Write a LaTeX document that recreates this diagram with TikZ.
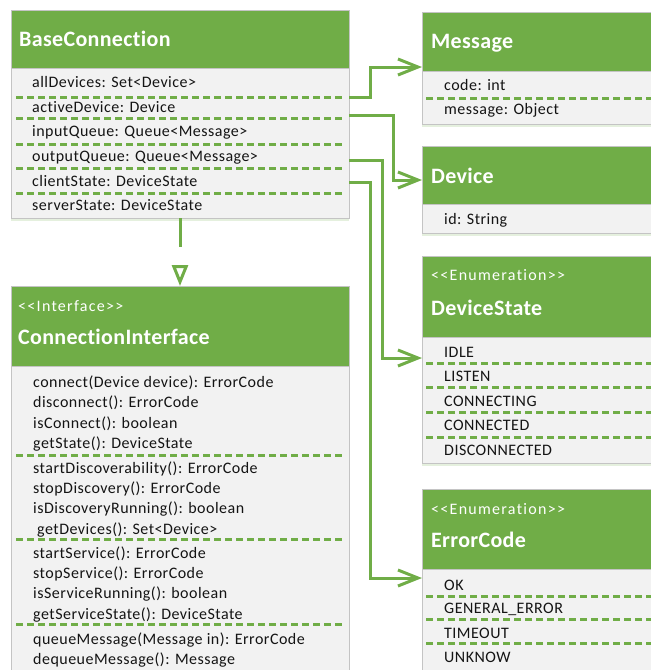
\documentclass[tikz,border=0pt]{standalone}
\usepackage{fontspec}
\setmainfont{Carlito}[Ligatures=NoCommon]
\newfontfamily\titlefont{Carlito}[LetterSpace=1.5, Ligatures=NoCommon]
\newfontfamily\stereofont{Carlito}[LetterSpace=8, Ligatures=NoCommon]
\newfontfamily\rowfont{Carlito}[LetterSpace=3, Ligatures=NoCommon]
\usetikzlibrary{arrows.meta,shadows}
\definecolor{umlgreen}{HTML}{70AD47}
\definecolor{umlbody}{HTML}{F2F2F2}
\definecolor{umlframe}{HTML}{C4C4C4}
\definecolor{umltext}{HTML}{141414}
\tikzset{
  header/.style={rectangle, anchor=north west, fill=umlgreen, draw=umlframe, line width=1pt, inner sep=0pt, outer sep=0pt},
  body/.style={rectangle, anchor=north west, fill=umlbody, draw=umlframe, line width=1pt, inner sep=0pt, outer sep=0pt,
    drop shadow={shadow xshift=0pt, shadow yshift=-3pt, fill=umlgreen, opacity=0.18}},
  title/.style={anchor=base west, inner sep=0pt, text=white, font=\titlefont\fontsize{22}{24}\selectfont\bfseries},
  stereo/.style={anchor=base west, inner sep=0pt, text=white, font=\stereofont\fontsize{16}{18}\selectfont},
  row/.style={anchor=base west, inner sep=0pt, text=umltext, font=\rowfont\fontsize{16}{18}\selectfont},
  sep/.style={umlgreen, line width=3pt, dash pattern=on 7pt off 4pt},
  assoc/.style={umlgreen, line width=3pt, -{Straight Barb[length=20pt, width=16pt]}},
  realize/.style={umlgreen, line width=3pt, dash pattern=on 29pt off 20pt,
    -{Triangle[open, length=21pt, width=16pt]}},
}
\begin{document}
\begin{tikzpicture}[x=1pt, y=-1pt]
\useasboundingbox (0,0) rectangle (651,670);
\clip (0,0) rectangle (651,670);

% ---------- BaseConnection ----------
\node[header, minimum width=338pt, minimum height=58pt] (bcH) at (11,10) {};
\node[body, minimum width=338pt, minimum height=150pt] (bcB) at (11,68) {};
\node[title] (bcT) at (19,46) {BaseConnection};
\foreach \y in {97,118,144,168,193} \draw[sep] (16,\y) -- (345,\y);
\node[row] (bc1) at (32,87.5) {allDevices: Set<Device>};
\node[row] (bc2) at (32,112) {activeDevice: Device};
\node[row] (bc3) at (32,136.5) {inputQueue: Queue<Message>};
\node[row] (bc4) at (32,161) {outputQueue: Queue<Message>};
\node[row] (bc5) at (32,186) {clientState: DeviceState};
\node[row] (bc6) at (32,210.5) {serverState: DeviceState};

% ---------- ConnectionInterface ----------
\node[header, minimum width=338pt, minimum height=80pt] (ciH) at (11,286) {};
\node[body, minimum width=338pt, minimum height=330pt] (ciB) at (11,366) {};
\node[stereo] (ciS) at (18,311) {<<Interface>>};
\node[title] (ciT) at (18,344) {ConnectionInterface};
\foreach \y in {455,539,624} \draw[sep] (16,\y) -- (345,\y);
\node[row] (ci1)  at (33,387.5) {connect(Device device): ErrorCode};
\node[row] (ci2)  at (33,407.8) {disconnect(): ErrorCode};
\node[row] (ci3)  at (33,428.1) {isConnect(): boolean};
\node[row] (ci4)  at (33,448.2) {getState(): DeviceState};
\node[row] (ci5)  at (33,473) {startDiscoverability(): ErrorCode};
\node[row] (ci6)  at (33,493.3) {stopDiscovery(): ErrorCode};
\node[row] (ci7)  at (33,513.6) {isDiscoveryRunning(): boolean};
\node[row] (ci8)  at (37,534) {getDevices(): Set<Device>};
\node[row] (ci9)  at (33,558.3) {startService(): ErrorCode};
\node[row] (ci10) at (33,578.6) {stopService(): ErrorCode};
\node[row] (ci11) at (33,598.9) {isServiceRunning(): boolean};
\node[row] (ci12) at (33,619.2) {getServiceState(): DeviceState};
\node[row] (ci13) at (33,644) {queueMessage(Message in): ErrorCode};
\node[row] (ci14) at (33,664.3) {dequeueMessage(): Message};

% ---------- Message ----------
\node[header, minimum width=260pt, minimum height=59pt] (msH) at (422,12) {};
\node[body, minimum width=260pt, minimum height=53pt] (msB) at (422,71) {};
\node[title] (msT) at (431,48.5) {Message};
\draw[sep] (426,98) -- (660,98);
\node[row] (ms1) at (444,90) {code: int};
\node[row] (ms2) at (444,114.5) {message: Object};

% ---------- Device ----------
\node[header, minimum width=260pt, minimum height=58pt] (dvH) at (422,146) {};
\node[body, minimum width=260pt, minimum height=29pt] (dvB) at (422,204) {};
\node[title] (dvT) at (431,183.5) {Device};
\node[row] (dv1) at (444,224) {id: String};

% ---------- DeviceState ----------
\node[header, minimum width=260pt, minimum height=81pt] (dsH) at (422,256) {};
\node[body, minimum width=260pt, minimum height=126pt] (dsB) at (422,337) {};
\node[stereo] (dsS) at (431,280) {<<Enumeration>>};
\node[title] (dsT) at (431,315) {DeviceState};
\foreach \y in {363,387,412,437} \draw[sep] (426,\y) -- (660,\y);
\node[row] (ds1) at (444,357) {IDLE};
\node[row] (ds2) at (444,381.5) {LISTEN};
\node[row] (ds3) at (444,406) {CONNECTING};
\node[row] (ds4) at (444,430.5) {CONNECTED};
\node[row] (ds5) at (444,455) {DISCONNECTED};

% ---------- ErrorCode ----------
\node[header, minimum width=260pt, minimum height=80pt] (ecH) at (422,489) {};
\node[body, minimum width=260pt, minimum height=150pt] (ecB) at (422,569) {};
\node[stereo] (ecS) at (431,514) {<<Enumeration>>};
\node[title] (ecT) at (431,547) {ErrorCode};
\foreach \y in {596,619,643} \draw[sep] (426,\y) -- (660,\y);
\node[row] (ec1) at (444,590) {OK};
\node[row] (ec2) at (444,613.5) {GENERAL\_ERROR};
\node[row] (ec3) at (444,638) {TIMEOUT};
\node[row] (ec4) at (444,662.5) {UNKNOW};

% ---------- ports of the associations ----------
\coordinate (p1) at (bcB.east |- 0,97);
\coordinate (p2) at (bcB.east |- 0,115);
\coordinate (p3) at (bcB.east |- 0,160);
\coordinate (p4) at (bcB.east |- 0,182);
\coordinate (t1) at (msH.west |- 0,67);
\coordinate (t2) at (dvH.west |- 0,180);
\coordinate (t3) at (dsB.west |- 0,358);
\coordinate (t4) at (ecB.west |- 0,578);

% ---------- connectors ----------
\draw[assoc] (p1) -- ++(21,0) |- (t1);
\draw[assoc] (p2) -- ++(44,0) |- (t2);
\draw[assoc] (p3) -- ++(33,0) |- (t3);
\draw[assoc] (p4) -- ++(21,0) |- (t4);
\draw[realize] (bcB.south) -- (ciH.north);
\end{tikzpicture}
\end{document}
